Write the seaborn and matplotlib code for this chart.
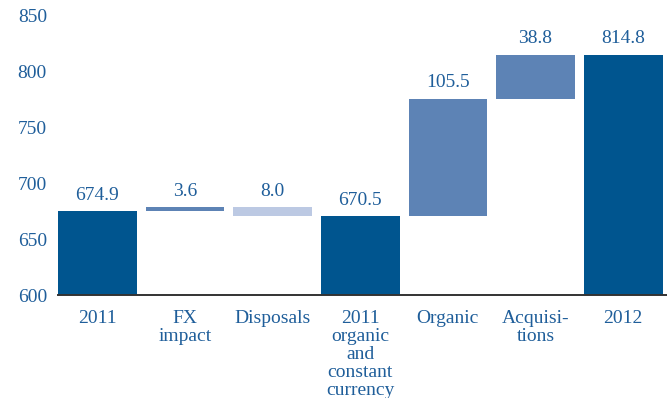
import matplotlib
matplotlib.use("Agg")
import matplotlib.pyplot as plt
import seaborn as sns
import pandas as pd

# Revenue bridge 2011 -> 2012
steps = ["2011", "FX\nimpact", "Disposals", "2011\norganic\nand\nconstant\ncurrency",
         "Organic", "Acquisi-\ntions", "2012"]
changes = [674.9, 3.6, -8.0, 670.5, 105.5, 38.8, 814.8]
kinds = ["total", "delta", "delta", "total", "delta", "delta", "total"]
labels = ["674.9", "3.6", "8.0", "670.5", "105.5", "38.8", "814.8"]
yticks = [600, 650, 700, 750, 800, 850]

BASE = 600
DARK = "#00558F"
MID = "#5D83B5"
LIGHT = "#BCC9E3"
TEXT = "#1F5E9A"

# compute floating segments for the waterfall
bottoms, heights, colors, tops = [], [], [], []
level = 0.0
for v, k in zip(changes, kinds):
    if k == "total":
        level = v
        bottoms.append(BASE)
        heights.append(v - BASE)
        colors.append(DARK)
        tops.append(v)
    else:
        start, end = level, level + v
        bottoms.append(min(start, end))
        heights.append(abs(v))
        colors.append(MID if v >= 0 else LIGHT)
        tops.append(max(start, end))
        level = end

df = pd.DataFrame({"step": steps, "height": heights, "bottom": bottoms})

sns.set_style("white")
plt.rcParams["font.family"] = ["Liberation Serif", "DejaVu Serif"]

fig = plt.figure(figsize=(6.67, 3.98), dpi=100)
ax = fig.add_axes([58 / 667, 103 / 398, 609 / 667, 279 / 398])

sns.barplot(data=df, x="step", y="height", bottom=df["bottom"].values,
            width=0.9, color=DARK, saturation=1, ax=ax)
for patch, c in zip(ax.patches, colors):
    patch.set_facecolor(c)
    patch.set_edgecolor("none")

for i, (t, lab) in enumerate(zip(tops, labels)):
    ax.annotate(lab, xy=(i, t), xytext=(0, 8.5), textcoords="offset points",
                ha="center", va="baseline", fontsize=14, color=TEXT,
                annotation_clip=False)

ax.set_xlim(-0.45, 6.5)
ax.set_ylim(BASE, 850)
ax.set_yticks(yticks)
ax.set_yticklabels([str(t) for t in yticks])
ax.set_xlabel("")
ax.set_ylabel("")

for s in ["top", "right", "left"]:
    ax.spines[s].set_visible(False)
ax.spines["bottom"].set_color("#333333")
ax.spines["bottom"].set_linewidth(1.4)

ax.tick_params(axis="both", length=0, labelsize=14, labelcolor=TEXT)
ax.tick_params(axis="x", pad=10.5)
ax.tick_params(axis="y", pad=8)
for lbl in ax.get_xticklabels():
    lbl.set_linespacing(1.08)

fig.savefig("out.png", dpi=100)
